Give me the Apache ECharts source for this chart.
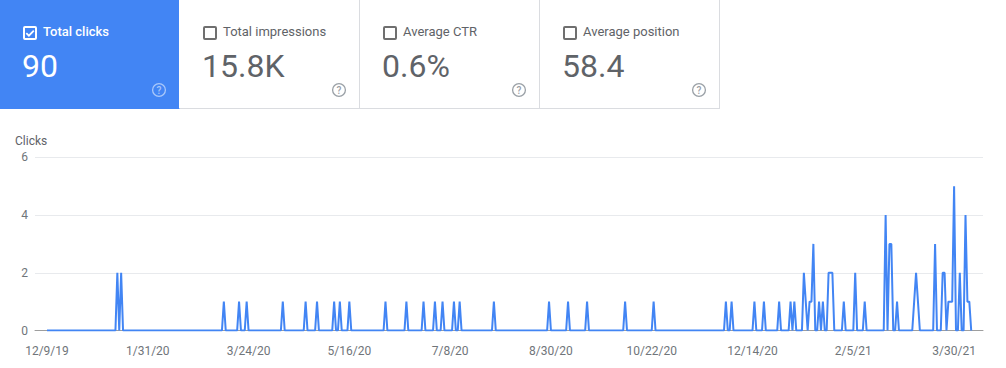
<!DOCTYPE html>
<html>
<head>
<meta charset="utf-8">
<script src="https://cdn.jsdelivr.net/npm/echarts@6/dist/echarts.min.js"></script>
<style>
  html, body { margin: 0; padding: 0; background: #fff; }
  #chart { position: absolute; left: 0; top: 0; width: 1006px; height: 368px; }
  #cards { position: absolute; left: 0; top: 0; width: 1006px; height: 110px; z-index: 2; font-family: Roboto, "Noto Sans", sans-serif; }
  .card { position: absolute; top: 0; width: 180px; height: 109px; box-sizing: border-box;
          border-right: 1px solid #dadce0; border-bottom: 1px solid #dadce0; background: #fff; }
  .card.active { background: #4285f4; border-right-color: #fff; border-bottom-color: #4285f4; }
  .cb { position: absolute; left: 23px; top: 26px; width: 14px; height: 14px; box-sizing: border-box;
        border: 2px solid #6f6f6f; border-radius: 2px; }
  .card.active .cb { border-color: #fff; }
  .cb svg { position: absolute; left: -1px; top: -1px; }
  .lbl { position: absolute; left: 43px; top: 24px; font-size: 13px; line-height: 16px; color: #5f6368; white-space: nowrap; }
  .card.active .lbl { color: #fff; font-weight: 500; }
  .val { position: absolute; left: 22px; top: 50px; font-size: 32px; line-height: 32px; color: #5f6368; white-space: nowrap; }
  .card.active .val { color: #fff; }
  .help { position: absolute; left: 151px; top: 82px; width: 16px; height: 16px; }
</style>
</head>
<body>
<div id="chart"></div>
<div id="cards"></div>
<script>
// ---- data ----
const metricNames = ["Total clicks", "Total impressions", "Average CTR", "Average position"];
const metricValues = ["90", "15.8K", "0.6%", "58.4"];
const activeMetric = 0;

const seriesName = "Clicks";
// daily clicks, one value per day starting 12/9/19
const clicks = [
  0,0,0,0,0,0,0,0,0,0,0,0,0,0,0,0,0,0,0,0,
  0,0,0,0,0,0,0,0,0,0,0,0,0,0,0,0,0,2,0,2,
  0,0,0,0,0,0,0,0,0,0,0,0,0,0,0,0,0,0,0,0,
  0,0,0,0,0,0,0,0,0,0,0,0,0,0,0,0,0,0,0,0,
  0,0,0,0,0,0,0,0,0,0,0,0,0,1,0,0,0,0,0,0,
  0,1,0,0,0,1,0,0,0,0,0,0,0,0,0,0,0,0,0,0,
  0,0,0,0,1,0,0,0,0,0,0,0,0,0,0,0,1,0,0,0,
  0,0,1,0,0,0,0,0,0,0,0,1,0,0,1,0,0,0,0,1,
  0,0,0,0,0,0,0,0,0,0,0,0,0,0,0,0,0,0,1,0,
  0,0,0,0,0,0,0,0,0,1,0,0,0,0,0,0,0,0,1,0,
  0,0,0,0,1,0,0,0,1,0,0,0,0,0,1,0,0,1,0,0,
  0,0,0,0,0,0,0,0,0,0,0,0,0,0,0,1,0,0,0,0,
  0,0,0,0,0,0,0,0,0,0,0,0,0,0,0,0,0,0,0,0,
  0,0,0,0,1,0,0,0,0,0,0,0,0,0,1,0,0,0,0,0,
  0,0,0,0,1,0,0,0,0,0,0,0,0,0,0,0,0,0,0,0,
  0,0,0,0,1,0,0,0,0,0,0,0,0,0,0,0,0,0,0,1,
  0,0,0,0,0,0,0,0,0,0,0,0,0,0,0,0,0,0,0,0,
  0,0,0,0,0,0,0,0,0,0,0,0,0,0,0,0,0,1,0,0,
  1,0,0,0,0,0,0,0,0,0,0,0,1,0,0,0,0,1,0,0,
  0,0,0,0,0,1,0,0,0,0,0,1,0,1,0,0,0,0,2,1,
  0,1,1,3,0,0,1,0,1,0,0,2,2,2,0,0,0,0,0,1,
  0,0,0,0,0,2,0,0,0,0,1,0,0,0,0,0,0,0,0,0,
  0,4,0,3,3,0,0,1,0,0,0,0,0,0,0,0,1,2,1,0,
  0,0,0,0,0,0,0,3,0,0,0,2,2,0,1,1,1,5,0,0,
  2,0,0,4,1,1,0
];
const tickLabels = ["12/9/19", "1/31/20", "3/24/20", "5/16/20", "7/8/20", "8/30/20", "10/22/20", "12/14/20", "2/5/21", "3/30/21"];
const tickStepDays = 53;
const yTicks = [0, 2, 4, 6];

// ---- metric cards ----
const cardsEl = document.getElementById('cards');
metricNames.forEach((name, i) => {
  const active = i === activeMetric;
  const c = document.createElement('div');
  c.className = 'card' + (active ? ' active' : '');
  c.style.left = (i * 180) + 'px';
  const check = active
    ? '<svg width="12" height="12" viewBox="0 0 12 12"><path d="M2.3 6.2 L4.9 8.7 L9.8 3.6" fill="none" stroke="#fff" stroke-width="1.8"/></svg>'
    : '';
  const helpColor = active ? 'rgba(255,255,255,0.55)' : '#9aa0a6';
  c.innerHTML =
    '<div class="cb">' + check + '</div>' +
    '<div class="lbl">' + name + '</div>' +
    '<div class="val">' + metricValues[i] + '</div>' +
    '<svg class="help" viewBox="0 0 16 16"><circle cx="8" cy="8" r="6.4" fill="none" stroke="' + helpColor + '" stroke-width="1.3"/>' +
    '<text x="8" y="11.6" text-anchor="middle" font-family="Roboto, sans-serif" font-size="10" font-weight="500" fill="' + helpColor + '">?</text></svg>';
  cardsEl.appendChild(c);
});

// ---- chart ----
const chart = echarts.init(document.getElementById('chart'), null, { renderer: 'svg' });
const lineData = clicks.map((v, i) => [i, v]);
const labelValues = tickLabels.map((_, i) => i * tickStepDays);

chart.setOption({
  animation: false,
  textStyle: { fontFamily: 'Roboto, "Noto Sans", sans-serif' },
  title: {
    text: seriesName,
    left: 15, top: 135, padding: 0,
    textStyle: { fontSize: 12, fontWeight: 'normal', color: '#5f6368' }
  },
  grid: { left: 35, right: 23, top: 157.3, bottom: 37.5, outerBoundsMode: 'none' },
  xAxis: {
    type: 'value',
    min: -6.3,
    max: 492.2,
    splitLine: { show: false },
    axisTick: { show: false },
    axisLine: { show: true, lineStyle: { color: '#9e9e9e', width: 1 } },
    axisLabel: {
      customValues: labelValues,
      color: '#70757a', fontSize: 12, margin: 14,
      formatter: (v) => {
        const k = Math.round(v / tickStepDays);
        return (Math.abs(v - k * tickStepDays) < 1e-6 && tickLabels[k]) ? tickLabels[k] : '';
      }
    }
  },
  yAxis: {
    type: 'value',
    min: yTicks[0], max: yTicks[yTicks.length - 1], interval: yTicks[1] - yTicks[0],
    axisLine: { show: false },
    axisTick: { show: false },
    splitLine: { lineStyle: { color: '#e8eaed', width: 1 } },
    axisLabel: { color: '#70757a', fontSize: 12, margin: 7 }
  },
  series: [{
    name: seriesName,
    type: 'line',
    data: lineData,
    showSymbol: false,
    symbol: 'none',
    lineStyle: { color: '#4285f4', width: 2 },
    itemStyle: { color: '#4285f4' },
    z: 3
  }]
});
</script>
</body>
</html>
